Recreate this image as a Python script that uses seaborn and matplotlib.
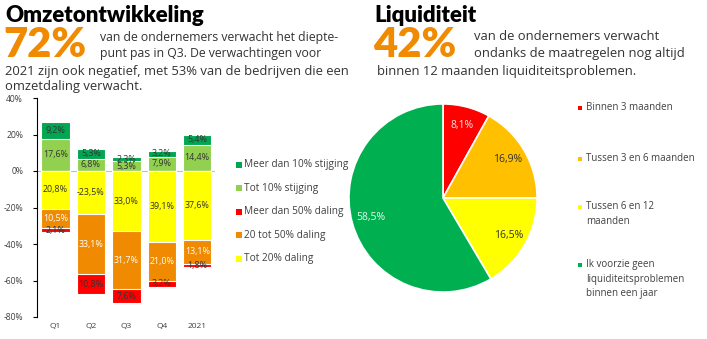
import numpy as np
import pandas as pd
import matplotlib
matplotlib.use("Agg")
import matplotlib.pyplot as plt
import seaborn as sns
from matplotlib.patches import Rectangle

# ---------------- data ----------------
periods = ["Q1", "Q2", "Q3", "Q4", "2021"]
up_small = [17.6, 6.8, 5.3, 7.9, 14.4]      # Tot 10% stijging
up_big = [9.2, 5.3, 2.3, 3.2, 5.4]          # Meer dan 10% stijging
down_small = [20.8, 23.5, 33.0, 39.1, 37.6]  # Tot 20% daling
down_mid = [10.5, 33.1, 31.7, 21.0, 13.1]    # 20 tot 50% daling
down_big = [2.1, 10.8, 7.6, 3.2, 1.8]        # Meer dan 50% daling
down_small_labels = ["20,8%", "-23,5%", "33,0%", "39,1%", "37,6%"]

bar_legend = ["Meer dan 10% stijging", "Tot 10% stijging", "Meer dan 50% daling",
              "20 tot 50% daling", "Tot 20% daling"]
yticks = [40, 20, 0, -20, -40, -60, -80]

pie_labels = ["Binnen 3 maanden", "Tussen 3 en 6 maanden", "Tussen 6 en 12\nmaanden",
              "Ik voorzie geen\nliquiditeitsproblemen\nbinnen een jaar"]
pie_values = [8.1, 16.9, 16.5, 58.5]

C_DGREEN = "#00A651"
C_LGREEN = "#92D050"
C_RED = "#FF0000"
C_ORANGE = "#F08A00"
C_YELLOW = "#FFFF00"
C_AMBER = "#FFC000"
C_PGREEN = "#00B050"
TXT = "#404040"

sns.set_theme(style="white")
plt.rcParams["font.family"] = ["Open Sans", "DejaVu Sans"]

fig = plt.figure(figsize=(7.07, 3.39), dpi=100)

# ---------------- stacked bar chart ----------------
ax = fig.add_axes([37 / 707, 1 - 317 / 339, (215 - 37) / 707, (317 - 98) / 339])

df = pd.DataFrame({
    "period": periods,
    "up_tot": np.array(up_small) + np.array(up_big),
    "up_small": up_small,
    "down_tot": -(np.array(down_small) + np.array(down_mid) + np.array(down_big)),
    "down_mid_cum": -(np.array(down_small) + np.array(down_mid)),
    "down_small": -np.array(down_small),
})

layers = [("up_tot", C_DGREEN), ("up_small", C_LGREEN),
          ("down_tot", C_RED), ("down_mid_cum", C_ORANGE), ("down_small", C_YELLOW)]
for col, colr in layers:
    sns.barplot(data=df, x="period", y=col, color=colr, width=0.8, ax=ax,
                edgecolor="white", linewidth=0.8, saturation=1)

ax.axhline(0, color="#BFBFBF", lw=0.8, zorder=0.5)
ax.set_ylim(-80, 40)
ax.set_xlim(-0.52, 4.5)
ax.set_yticks(yticks)
ax.set_yticklabels([f"{t}%" for t in yticks], fontsize=6.2, color=TXT)
ax.tick_params(axis="y", length=3, width=0.8, color="black", pad=7, left=True)
ax.tick_params(axis="x", length=0, labelsize=6, labelcolor=TXT, pad=4)
ax.set_xlabel("")
ax.set_ylabel("")
sns.despine(ax=ax, top=True, right=True, bottom=True)
ax.spines["left"].set_color("black")
ax.spines["left"].set_linewidth(0.8)

fmt = lambda v: f"{v:.1f}".replace(".", ",") + "%"
fs = 6.4
for i in range(len(periods)):
    ax.text(i, up_small[i] / 2, fmt(up_small[i]), ha="center", va="center", fontsize=fs, color="#333333")
    ax.text(i, up_small[i] + up_big[i] / 2, fmt(up_big[i]), ha="center", va="center", fontsize=fs, color="#333333")
    ax.text(i, -down_small[i] / 2, down_small_labels[i], ha="center", va="center", fontsize=fs, color="#333333")
    ax.text(i, -down_small[i] - down_mid[i] / 2, fmt(down_mid[i]), ha="center", va="center", fontsize=fs, color="white")
    ax.text(i, -down_small[i] - down_mid[i] - down_big[i] / 2, fmt(down_big[i]), ha="center", va="center",
            fontsize=fs, color="#333333")

# bar legend
leg_colors = [C_DGREEN, C_LGREEN, C_RED, C_ORANGE, C_YELLOW]
for k, (lab, c) in enumerate(zip(bar_legend, leg_colors)):
    y = 165 + k * 23.4
    fig.patches.append(Rectangle((236 / 707, 1 - (y + 3) / 339), 6 / 707, 6 / 339,
                                 transform=fig.transFigure, facecolor=c, edgecolor="none"))
    fig.text(244 / 707, 1 - y / 339, lab, fontsize=7.3, color=TXT, va="center", ha="left")

# ---------------- pie chart ----------------
r = 95
pax = fig.add_axes([(443 - r) / 707, 1 - (198 + r) / 339, 2 * r / 707, 2 * r / 339])
wedges, _, autotexts = pax.pie(
    pie_values, colors=[C_RED, C_AMBER, C_YELLOW, C_PGREEN], startangle=90, counterclock=False,
    autopct=lambda p: f"{p:.1f}".replace(".", ",") + "%", pctdistance=0.8,
    wedgeprops=dict(edgecolor="white", linewidth=1.2), textprops=dict(fontsize=7.5))
for t, c in zip(autotexts, ["#FFE0E0", "#333333", "#333333", "#E8F8EE"]):
    t.set_color(c)
pax.set_xlim(-1.01, 1.01)
pax.set_ylim(-1.01, 1.01)
pax.set_aspect("equal")

# pie legend
pie_leg_y = [108, 159, 207, 265]
for lab, c, y in zip(pie_labels, [C_RED, C_AMBER, C_YELLOW, C_PGREEN], pie_leg_y):
    fig.patches.append(Rectangle((578 / 707, 1 - (y + 2) / 339), 4 / 707, 4 / 339,
                                 transform=fig.transFigure, facecolor=c, edgecolor="none"))
    fig.text(586 / 707, 1 - (y - 6) / 339, lab, fontsize=7, color=TXT, va="top", ha="left",
             linespacing=1.45)

# ---------------- headings ----------------
fig.text(5 / 707, 1 - 16 / 339, "Omzetontwikkeling", fontsize=16, fontweight="heavy",
         family=["Lato", "DejaVu Sans"], color="black", va="center")
fig.text(3 / 707, 1 - 45 / 339, "72%", fontsize=30, fontweight="heavy",
         family=["Lato", "DejaVu Sans"], color="#F08A00", va="center")
fig.text(100 / 707, 1 - 37 / 339, "van de ondernemers verwacht het diepte-", fontsize=8.8, color="#333333", va="center")
fig.text(100 / 707, 1 - 54 / 339, "punt pas in Q3. De verwachtingen voor", fontsize=8.8, color="#333333", va="center")
fig.text(5 / 707, 1 - 71 / 339, "2021 zijn ook negatief, met 53% van de bedrijven die een", fontsize=9.4, color="#333333", va="center")
fig.text(5 / 707, 1 - 87 / 339, "omzetdaling verwacht.", fontsize=9.4, color="#333333", va="center")

fig.text(374 / 707, 1 - 16 / 339, "Liquiditeit", fontsize=16, fontweight="heavy",
         family=["Lato", "DejaVu Sans"], color="black", va="center")
fig.text(373 / 707, 1 - 45 / 339, "42%", fontsize=30, fontweight="heavy",
         family=["Lato", "DejaVu Sans"], color="#F08A00", va="center")
fig.text(474 / 707, 1 - 37 / 339, "van de ondernemers verwacht", fontsize=9.4, color="#333333", va="center")
fig.text(474 / 707, 1 - 54 / 339, "ondanks de maatregelen nog altijd", fontsize=9.4, color="#333333", va="center")
fig.text(377 / 707, 1 - 72 / 339, "binnen 12 maanden liquiditeitsproblemen.", fontsize=9.4, color="#333333", va="center")

fig.savefig("out.png", dpi=100)
